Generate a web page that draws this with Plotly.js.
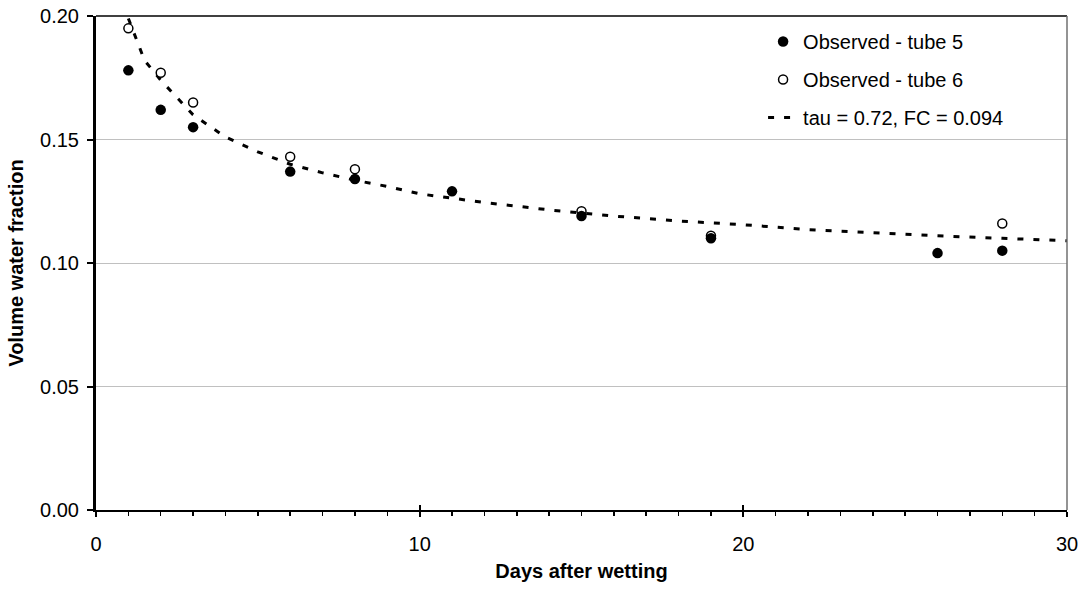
<!DOCTYPE html>
<html>
<head>
<meta charset="utf-8">
<script src="https://cdn.plot.ly/plotly-3.0.1.min.js"></script>
<style>html,body{margin:0;padding:0;background:#fff;}#chart{width:1085px;height:593px;}</style>
</head>
<body>
<div id="chart"></div>
<script>
// Observed values
const daysTube5 = [1, 2, 3, 6, 8, 11, 15, 19, 26, 28];
const tube5 = [0.178, 0.162, 0.155, 0.137, 0.134, 0.129, 0.119, 0.110, 0.104, 0.105];
const daysTube6 = [1, 2, 3, 6, 8, 15, 19, 28];
const tube6 = [0.195, 0.177, 0.165, 0.143, 0.138, 0.121, 0.111, 0.116];
// Fitted curve
const daysFit = [1, 1.5, 2, 3, 4, 5, 6, 7, 8, 9, 10, 12, 14, 16, 18, 20, 22, 24, 26, 28, 30];
const fit = [0.199, 0.182, 0.174, 0.160, 0.151, 0.145, 0.140, 0.1365, 0.1335, 0.131, 0.128, 0.1245, 0.1215, 0.119, 0.117, 0.1155, 0.1135, 0.1122, 0.111, 0.110, 0.109];
const names = ['Observed - tube 5', 'Observed - tube 6', 'tau = 0.72, FC = 0.094'];

const FONT = 'Liberation Sans, Arial, sans-serif';

const data = [
  {x: daysFit, y: fit, mode: 'lines', name: names[2], legendrank: 3, legendgroup: 'c',
   line: {color: '#000', width: 3, dash: '6px,10px'}, hoverinfo: 'skip'},
  {x: daysTube6, y: tube6, mode: 'markers', name: names[1], legendrank: 2, legendgroup: 'b',
   marker: {symbol: 'circle', size: 9, color: '#fff', line: {color: '#000', width: 1.5}}, cliponaxis: false},
  {x: daysTube5, y: tube5, mode: 'markers', name: names[0], legendrank: 1, legendgroup: 'a',
   marker: {symbol: 'circle', size: 10.5, color: '#000', line: {color: '#000', width: 0}}, cliponaxis: false},
  {x: [], y: [], xaxis: 'x2', showlegend: false, hoverinfo: 'skip', mode: 'markers'}
];

const layout = {
  width: 1085, height: 593,
  margin: {l: 96, r: 18, t: 16, b: 83},
  paper_bgcolor: '#fff', plot_bgcolor: '#fff',
  font: {family: FONT, size: 20, color: '#000'},
  showlegend: true,
  legend: {x: 0.687, xanchor: 'left', y: 0.988, yanchor: 'top', bgcolor: 'rgba(0,0,0,0)',
           font: {family: FONT, size: 20, color: '#000'}, traceorder: 'grouped', tracegroupgap: 9},
  xaxis: {
    range: [0, 30], dtick: 10, tick0: 0, showgrid: false, zeroline: false,
    showline: true, linecolor: '#000', linewidth: 2,
    ticks: 'outside', ticklen: 5, tickwidth: 2, tickcolor: '#000',
    ticklabelstandoff: 10,
    minor: {dtick: 1, ticks: 'outside', ticklen: 4, tickwidth: 1.5, tickcolor: '#000', showgrid: false},
    tickfont: {family: FONT, size: 20},
    title: {text: '<b>Days after wetting</b>', font: {family: FONT, size: 20}, standoff: 10}
  },
  xaxis2: {
    overlaying: 'x', anchor: 'y', side: 'bottom', range: [0, 30], dtick: 10, tick0: 0,
    showgrid: false, zeroline: false, showline: false, showticklabels: false,
    ticks: 'inside', ticklen: 5, tickwidth: 2, tickcolor: '#000'
  },
  yaxis: {
    range: [0, 0.2], dtick: 0.05, tick0: 0, tickformat: '.2f',
    showgrid: true, gridcolor: '#c0c0c0', gridwidth: 1, zeroline: false,
    showline: true, linecolor: '#000', linewidth: 3,
    ticks: 'outside', ticklen: 6, tickwidth: 2, tickcolor: '#000',
    ticklabelstandoff: 4,
    automargin: 'left',
    tickfont: {family: FONT, size: 20},
    title: {text: '<b>Volume water fraction</b>', font: {family: FONT, size: 20}, standoff: 12}
  },
  shapes: [
    {type: 'line', xref: 'paper', yref: 'paper', x0: 0, x1: 1, y0: 1, y1: 1, line: {color: '#000', width: 1.5}},
    {type: 'line', xref: 'paper', yref: 'paper', x0: 1, x1: 1, y0: 0, y1: 1, line: {color: '#707070', width: 1.5}}
  ]
};

Plotly.newPlot('chart', data, layout, {displayModeBar: false, staticPlot: true});
</script>
</body>
</html>
